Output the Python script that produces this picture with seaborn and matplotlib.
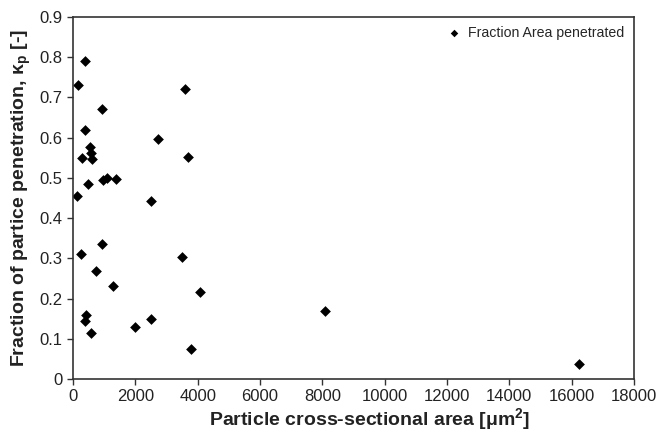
import matplotlib
matplotlib.use("Agg")
import matplotlib.pyplot as plt
import seaborn as sns
import pandas as pd
import numpy as np

# particle cross-sectional area [um^2] and fraction penetrated
area = [170, 385, 385, 280, 560, 580, 610, 490, 130, 257, 740, 420, 390, 578,
        920, 930, 953, 1100, 1380, 1284, 1980, 2503, 2503, 2717, 3508, 3594,
        3700, 3776, 4086, 8087, 16248]
fraction = [0.73, 0.79, 0.62, 0.55, 0.577, 0.562, 0.546, 0.485, 0.455, 0.31,
            0.268, 0.16, 0.145, 0.114, 0.335, 0.670, 0.495, 0.500, 0.497, 0.231,
            0.130, 0.148, 0.443, 0.596, 0.303, 0.722, 0.553, 0.075, 0.217,
            0.170, 0.038]
x_ticks = list(range(0, 18001, 2000))
y_ticks = [0, 0.1, 0.2, 0.3, 0.4, 0.5, 0.6, 0.7, 0.8, 0.9]

df = pd.DataFrame({"area": area, "fraction": fraction})

sns.set_style("ticks")
plt.rcParams["font.family"] = ["Liberation Sans", "DejaVu Sans"]
plt.rcParams["mathtext.fontset"] = "custom"
plt.rcParams["mathtext.rm"] = "Liberation Sans"
plt.rcParams["mathtext.bf"] = "Liberation Sans:bold"

fig = plt.figure(figsize=(6.59, 4.34), dpi=100)
ax = fig.add_axes([0.1108, 0.1267, 0.8512, 0.8343])

sns.scatterplot(data=df, x="area", y="fraction", marker="D", color="black",
                s=30, edgecolor="black", linewidth=0, ax=ax,
                label="Fraction Area penetrated")

ax.set_xlim(0, 18000)
ax.set_ylim(0, 0.9)
ax.set_xticks(x_ticks)
ax.set_yticks(y_ticks)
ax.set_yticklabels([f"{v:g}" for v in y_ticks])
ax.tick_params(axis="both", labelsize=12, direction="out", length=4,
               width=1, color="#333333", labelcolor="#222222")
for sp in ax.spines.values():
    sp.set_visible(True)
    sp.set_color("#333333")
    sp.set_linewidth(1.2)

ax.set_xlabel(r"Particle cross-sectional area [μm$^\mathbf{2}$]",
              fontsize=14, fontweight="bold", color="#222222")
ax.xaxis.set_label_coords(0.528, -0.075)
ax.set_ylabel(r"Fraction of partice penetration, κ$_\mathbf{p}$ [-]",
              fontsize=14, fontweight="bold", color="#222222", labelpad=5)

leg = ax.legend(loc="upper right", frameon=False, fontsize=10.2,
                handletextpad=0.0, borderaxespad=0.25, markerscale=0.7)

fig.savefig("out.png", dpi=100)
